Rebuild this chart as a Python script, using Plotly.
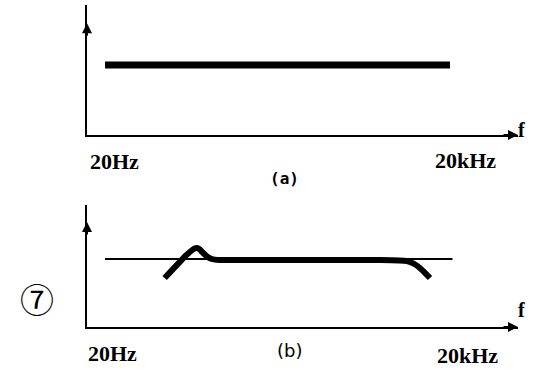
import plotly.graph_objects as go
import math

W, H = 540, 378

# ---- data ----
freq_a = [20, 20000]
level_a = [0, 0]

freq_ref_b = [20, 21000]
level_ref_b = [0, 0]

freq_b = [66, 100, 112, 120, 126, 132, 140, 152, 170, 200, 1000, 5000, 8450, 9800, 11200, 13400]
level_b = [-19, 3, 8, 10.5, 11, 10, 7, 3, 0, -1, -1, -1, -2, -5, -10, -19]

x_labels = ["20Hz", "20kHz"]
x_label_freqs = [20, 20000]

fig = go.Figure()

fig.add_trace(go.Scatter(x=freq_a, y=level_a, mode="lines",
                         line=dict(color="black", width=7), xaxis="x", yaxis="y",
                         showlegend=False, hoverinfo="skip"))
fig.add_trace(go.Scatter(x=freq_ref_b, y=level_ref_b, mode="lines",
                         line=dict(color="black", width=2), xaxis="x2", yaxis="y2",
                         showlegend=False, hoverinfo="skip"))
fig.add_trace(go.Scatter(x=freq_b, y=level_b, mode="lines",
                         line=dict(color="black", width=6, shape="spline", smoothing=0.3),
                         xaxis="x2", yaxis="y2",
                         showlegend=False, hoverinfo="skip"))

xr = [math.log10(20) - 18 / 115, math.log10(20) + 413 / 115]
xdom = [87 / W, 518 / W]

axis_common = dict(showgrid=False, zeroline=False, showticklabels=False, ticks="",
                   showline=True, linecolor="black", linewidth=2)

fig.update_layout(
    width=W, height=H, margin=dict(l=0, r=0, t=0, b=0),
    paper_bgcolor="white", plot_bgcolor="white",
    xaxis=dict(type="log", range=xr, domain=xdom, anchor="y", **axis_common),
    yaxis=dict(range=[-70, 60], domain=[1 - 135 / H, 1 - 5 / H], anchor="x", **axis_common),
    xaxis2=dict(type="log", range=xr, domain=xdom, anchor="y2", **axis_common),
    yaxis2=dict(range=[-68, 54], domain=[1 - 327 / H, 1 - 205 / H], anchor="x2", **axis_common),
)

label_font = dict(family="Liberation Serif", size=22, color="black")
for xa, ypixs, shifts in [("x", (161, 160), (9, 15)), ("x2", (353, 355), (7, 17))]:
    for lab, fq, sh, ypix in zip(x_labels, x_label_freqs, shifts, ypixs):
        fig.add_annotation(text="<b>%s</b>" % lab, x=math.log10(fq), xref=xa, xshift=sh,
                           y=1 - ypix / H, yref="paper", showarrow=False, font=label_font,
                           xanchor="center", yanchor="middle")

# axis end letters and panel captions
for ypix in [130, 323]:
    fig.add_annotation(text="<b>f</b>", x=527 / W, xref="paper", y=1 - ypix / H, yref="paper",
                       showarrow=False, font=dict(family="Liberation Serif", size=20, color="black"))

fig.add_annotation(text="<b>(a)</b>", x=284 / W, xref="paper", y=1 - 179 / H, yref="paper",
                   showarrow=False, font=dict(family="DejaVu Sans Mono", size=16, color="black"))
fig.add_annotation(text="(b)", x=289 / W, xref="paper", y=1 - 363 / H, yref="paper",
                   showarrow=False, font=dict(family="DejaVu Sans", size=18, color="black"))
fig.add_annotation(text="⑦", x=18 / W, xref="paper", y=1 - 325 / H, yref="paper",
                   showarrow=False, font=dict(family="Noto Sans CJK SC", size=34, color="black"))

# arrowheads on axes
for xa, ya in [("x", "y"), ("x2", "y2")]:
    fig.add_annotation(x=1, xref=xa + " domain", y=0, yref=ya + " domain",
                       ax=-16, ay=0, axref="pixel", ayref="pixel", text="",
                       showarrow=True, arrowhead=2, arrowsize=1, arrowwidth=2, arrowcolor="black")
    fig.add_annotation(x=0, xref=xa + " domain", y=0.86, yref=ya + " domain",
                       ax=0, ay=14, text="",
                       showarrow=True, arrowhead=2, arrowsize=1, arrowwidth=2, arrowcolor="black")

fig.write_html("out.html")
